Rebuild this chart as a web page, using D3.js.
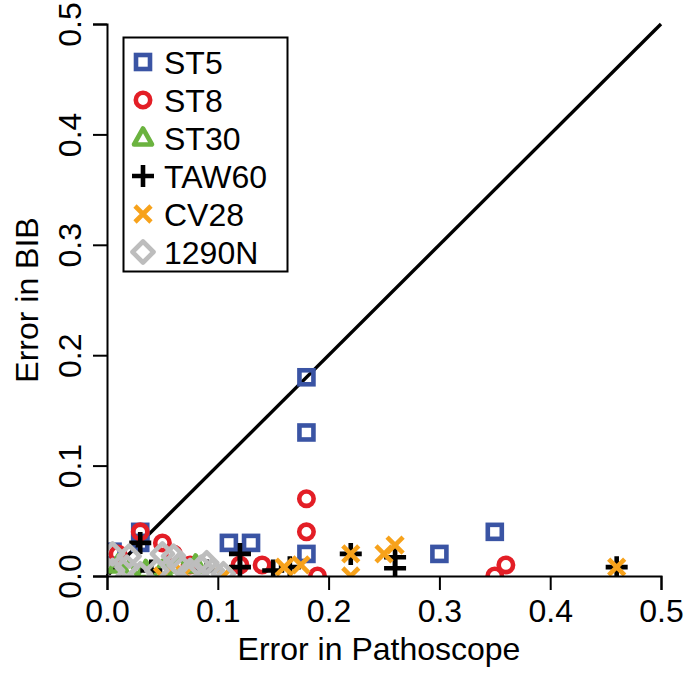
<!DOCTYPE html>
<html><head><meta charset="utf-8">
<script src="https://cdn.jsdelivr.net/npm/d3@7"></script>
<style>body{margin:0;background:#fff}svg{display:block}text{font-family:"Liberation Sans",Arial,Helvetica,sans-serif;fill:#000}</style>
</head><body>
<script>
// ---- data ----
const seriesNames = ["ST5","ST8","ST30","TAW60","CV28","1290N"];
const seriesColors = ["#3A54A4","#E31E26","#6BB33F","#000000","#F7A21B","#BDBDBD"];
const seriesShapes = ["square","circle","triangle","plus","cross","diamond"];
const st5 = [[0.03,0.04],[0.03,0.03],[0.18,0.18],[0.18,0.13],[0.18,0.02],[0.11,0.03],[0.13,0.03],[0.30,0.02],[0.35,0.04],[0.005,0.022]];
const st8 = [[0.03,0.04],[0.05,0.03],[0.18,0.07],[0.18,0.04],[0.19,0.0],[0.12,0.01],[0.14,0.01],[0.35,0.0],[0.36,0.01],[0.01,0.02],[0.075,0.01],[0.06,0.02]];
const st30 = [[0.01,0.01],[0.02,0.005],[0.035,0.005],[0.05,0.005],[0.065,0.01],[0.08,0.01]];
const taw60 = [[0.03,0.03],[0.12,0.02],[0.15,0.005],[0.165,0.008],[0.22,0.02],[0.26,0.017],[0.26,0.007],[0.46,0.008],[0.04,0.005],[0.09,0.005],[0.12,0.008]];
const cv28 = [[0.16,0.008],[0.175,0.01],[0.22,0.02],[0.22,0.0],[0.25,0.02],[0.26,0.028],[0.46,0.008],[0.05,0.0],[0.105,0.0],[0.07,0.002]];
const n1290 = [[0.005,0.02],[0.018,0.008],[0.005,0.005],[0.03,0.002],[0.05,0.02],[0.045,0.005],[0.06,0.018],[0.065,0.01],[0.075,0.005],[0.09,0.012],[0.095,0.005],[0.105,0.002],[0.02,0.018],[0.085,0.008]];
const seriesData = [st5, st8, st30, taw60, cv28, n1290];
const xTicks = [0,0.1,0.2,0.3,0.4,0.5];
const yTicks = [0,0.1,0.2,0.3,0.4,0.5];
const xTitle = "Error in Pathoscope";
const yTitle = "Error in BIB";

// ---- layout ----
const W = 685, H = 675;
const L = 107, R = 661, T = 24, B = 576;
const fs = 32;
const svg = d3.select("body").append("svg").attr("width", W).attr("height", H);
const x = d3.scaleLinear().domain([0,0.5]).range([L,R]);
const y = d3.scaleLinear().domain([0,0.5]).range([B,T]);

svg.append("defs").append("clipPath").attr("id","clip")
  .append("rect").attr("x",L).attr("y",T).attr("width",R-L).attr("height",B-T);

// diagonal
svg.append("line").attr("x1",x(0)).attr("y1",y(0)).attr("x2",x(0.5)).attr("y2",y(0.5))
  .attr("stroke","#000").attr("stroke-width",3.4);

function drawSym(g, shape, color){
  const sw = 4.6;
  if (shape==="square") g.append("rect").attr("x",-7).attr("y",-7).attr("width",14).attr("height",14)
      .attr("fill","none").attr("stroke",color).attr("stroke-width",sw);
  else if (shape==="circle") g.append("circle").attr("r",7.2).attr("fill","none").attr("stroke",color).attr("stroke-width",sw);
  else if (shape==="triangle") g.append("path").attr("d","M0,-9.5L9,6.5L-9,6.5Z").attr("fill","none").attr("stroke",color).attr("stroke-width",sw).attr("stroke-linejoin","round");
  else if (shape==="plus") g.append("path").attr("d","M-11,0H11M0,-11V11").attr("stroke",color).attr("stroke-width",sw);
  else if (shape==="cross") g.append("path").attr("d","M-8,-8L8,8M-8,8L8,-8").attr("stroke",color).attr("stroke-width",sw);
  else if (shape==="diamond") g.append("path").attr("d","M0,-10.5L10.5,0L0,10.5L-10.5,0Z").attr("fill","none").attr("stroke",color).attr("stroke-width",sw).attr("stroke-linejoin","round");
}

const pts = svg.append("g").attr("clip-path","url(#clip)");
seriesData.forEach((data,i)=>{
  const g = pts.append("g");
  data.forEach(d=>{
    const s = g.append("g").attr("transform",`translate(${x(d[0])},${y(d[1])})`);
    drawSym(s, seriesShapes[i], seriesColors[i]);
  });
});

// axes
const xa = svg.append("g").attr("transform",`translate(0,${B})`)
  .call(d3.axisBottom(x).tickValues(xTicks).tickFormat(d3.format(".1f")).tickSize(14).tickPadding(8));
const ya = svg.append("g").attr("transform",`translate(${L},0)`)
  .call(d3.axisLeft(y).tickValues(yTicks).tickFormat(d3.format(".1f")).tickSize(14).tickPadding(8));
[xa,ya].forEach(a=>{
  a.select(".domain").attr("stroke","#000").attr("stroke-width",2);
  a.selectAll(".tick line").attr("stroke","#000").attr("stroke-width",2);
  a.selectAll("text").style("font-size",fs+"px").attr("font-family",null);
});
xa.selectAll(".tick text").attr("dy",null).attr("y",46);
ya.selectAll(".tick text").attr("x",null).attr("dy",null)
  .attr("transform","translate(-26,0) rotate(-90)").attr("text-anchor","middle").attr("y",0);

svg.append("text").attr("x",(L+R)/2 - 5).attr("y",660).attr("text-anchor","middle").style("font-size",fs+"px").text(xTitle);
svg.append("text").attr("transform",`translate(38,${(T+B)/2}) rotate(-90)`).attr("text-anchor","middle").style("font-size",fs+"px").text(yTitle);

// legend
const lg = svg.append("g");
lg.append("rect").attr("x",123.5).attr("y",37.5).attr("width",164).attr("height",234)
  .attr("fill","#fff").attr("stroke","#000").attr("stroke-width",2);
seriesNames.forEach((n,i)=>{
  const cy = 62 + i*38;
  const s = lg.append("g").attr("transform",`translate(143,${cy})`);
  drawSym(s, seriesShapes[i], seriesColors[i]);
  lg.append("text").attr("x",164).attr("y",cy+11.5).style("font-size",fs+"px").text(n);
});
</script>
</body></html>
